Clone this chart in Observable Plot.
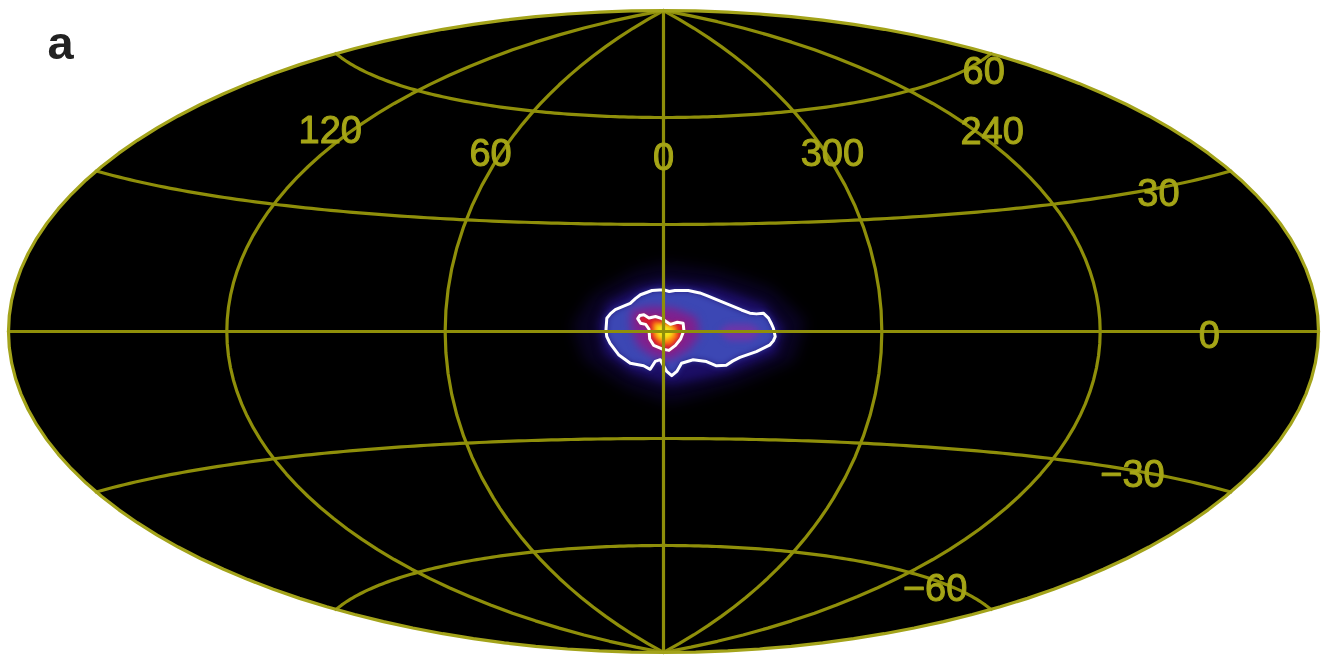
<!DOCTYPE html>
<html><head><meta charset="utf-8">
<style>html,body{margin:0;padding:0;background:#fff}svg{display:block}</style>
<script src="https://cdn.jsdelivr.net/npm/d3@7"></script>
<script src="https://cdn.jsdelivr.net/npm/@observablehq/plot@0.6"></script>
</head><body><div id="chart"></div>
<script>
const meridians = [0, 60, 120, 240, 300];
const parallels = [-60, -30, 0, 30, 60];
const parallelLons = d3.range(-178, 179, 2);
const lonLabels = [
  {t:"120",lon:127,lat:47.7},{t:"60",lon:63.6,lat:47.9},{t:"0",lon:0,lat:48.8},
  {t:"300",lon:-62.2,lat:48},{t:"240",lon:-125,lat:47.7}];
const latLabels = [
  {t:"60",lon:-161,lat:58.5},{t:"30",lon:-153,lat:28.9},{t:"0",lon:-150,lat:-.8},
  {t:"\u221230",lon:-147,lat:-30.8},{t:"\u221260",lon:-143,lat:-61.4}];
// contours, [galactic longitude, latitude] in degrees
const outerContour = [[0,11.7],[-1.6,11.2],[-3.2,11.5],[-6.9,11.5],[-10.1,10.8],[-12.4,9.9],[-14.7,8.9],[-19.2,7],[-21.5,6],[-23.8,5.1],[-25.6,4.9],[-27.5,5.1],[-28.9,3.7],[-29.6,2.3],[-30.2,.9],[-30.7,-1.4],[-30.2,-2.6],[-29.3,-3.7],[-25.6,-5.6],[-21.1,-7.2],[-19.2,-8.2],[-17.4,-9.4],[-14.7,-9.6],[-11.9,-8.4],[-8.2,-7.9],[-5,-8.9],[-3.7,-11.2],[-2.3,-12.4],[-.9,-11.2],[.9,-7.9],[2.3,-8.4],[3.7,-10.6],[5.5,-9.6],[9.2,-8.9],[12.4,-6.5],[14.7,-3.3],[15.6,-1.4],[15.8,.5],[15.6,3.7],[14.6,5],[13.3,6.1],[9.2,7.9],[7.8,9.2],[6.4,10.3],[3.2,11.5]];
const innerContour = [[6.5,4.5],[5.4,4.7],[4,3.8],[2.2,4.2],[.4,3.6],[-1.9,2],[-3.8,2.6],[-5.4,2.3],[-5.6,.3],[-4.7,-2.1],[-3.3,-3.9],[-1.5,-5.3],[.4,-4.9],[2.7,-3.9],[3.8,-2.1],[4,.7],[4.9,2],[6.3,2.3],[7.1,3.6]];
const haloOuter = [[0,19],[-15,17],[-30,12],[-39,3],[-36,-8],[-20,-15],[-2,-20],[10,-16],[22,-8],[25,2],[20,10],[8,17]];
const haloInner = [[0,14],[-14,12.5],[-28,7.5],[-33,1],[-31,-6],[-18,-11.5],[-2,-15],[9,-11.5],[16.5,-6],[18,2],[15.5,8],[7,12.5]];
const magentaCore = [[9,6],[3,7],[-3,6.5],[-9,4],[-10,-1],[-7,-5],[-2,-8],[3,-7],[7,-4],[9,1]];
const magentaLobe = [[-18,2],[-24,2],[-27,0],[-24,-2.5],[-18,-2.5],[-15,0]];
const orangeCore = [[3,2.8],[0,2.6],[-3.5,1.6],[-4,-1.5],[-2,-3.8],[1,-3.5],[3,-1]];
const yellowCore = [[2.2,1.8],[-1,1.8],[-2.8,.6],[-2.6,-1.2],[-.6,-2.4],[1.6,-1.6]];

function aitoffRaw(l, p) {
  const c = Math.cos(p), a = Math.acos(c * Math.cos(l / 2));
  const s = a ? Math.sin(a) / a : 1;
  return [2 * c * Math.sin(l / 2) / s, 0.98 * Math.sin(p) / s];
}
const projection = d3.geoProjection(aitoffRaw).scale(208.5).translate([663, 331]).reflectX(true).precision(0.2);

const poly = ring => {
  const c = [...ring, ring[0]];
  const g = {type:"Polygon", coordinates:[c]};
  return d3.geoArea(g) > 2 * Math.PI ? {type:"Polygon", coordinates:[[...c].reverse()]} : g;
};
const line = ring => ({type:"LineString", coordinates:[...ring, ring[0]]});
const meridian = lon => ({type:"LineString", coordinates:[[lon,-90],[lon,-45],[lon,0],[lon,45],[lon,90]]});
const parallel = lat => ({type:"LineString", coordinates:[[-179.99,lat], ...parallelLons.map(l=>[l,lat]), [179.99,lat]]});

const olive = "#8f8f0a", rim = "#a3a31a", labelC = "#a5a516", font = "Liberation Sans";
const heat = (ring, fill, blur) => Plot.geo([poly(ring)], {fill, stroke:"none", imageFilter:`blur(${blur}px)`});

const plot = Plot.plot({
  width:1332, height:655, margin:0, projection,
  style:{background:"#fff", fontFamily:font},
  marks:[
    Plot.sphere({fill:"#000", stroke:"none"}),
    heat(haloOuter,"#090322",7),
    heat(haloInner,"#1c0e66",5),
    heat(outerContour,"#3c47b4",3),
    heat(magentaCore,"#80208e",4),
    heat(magentaLobe,"#6d36a8",3),
    heat(innerContour,"#d8182c",2),
    heat(orangeCore,"#ff8010",2),
    heat(yellowCore,"#f4e818",2),
    Plot.geo([line(outerContour), line(innerContour)], {stroke:"#fff", strokeWidth:3, strokeLinejoin:"round", fill:"none", imageFilter:"blur(0.7px)"}),
    Plot.geo(meridians.map(meridian), {stroke:olive, strokeWidth:3.2, imageFilter:"blur(0.6px)"}),
    Plot.geo(parallels.map(parallel), {stroke:olive, strokeWidth:3.2, imageFilter:"blur(0.6px)"}),
    Plot.sphere({stroke:rim, strokeWidth:3.2, imageFilter:"blur(0.6px)"}),
    Plot.text([...lonLabels, ...latLabels], {x:"lon", y:"lat", text:"t", fill:labelC, stroke:labelC, strokeWidth:1, fontSize:38, fontFamily:font, imageFilter:"blur(0.6px)"}),
    Plot.text(["a"], {frameAnchor:"top-left", dx:47, dy:25, fontSize:47, fontWeight:"bold", fill:"#222", fontFamily:font, textAnchor:"start", lineAnchor:"top", imageFilter:"blur(0.6px)"})
  ]
});
document.getElementById("chart").append(plot);
</script></body></html>
